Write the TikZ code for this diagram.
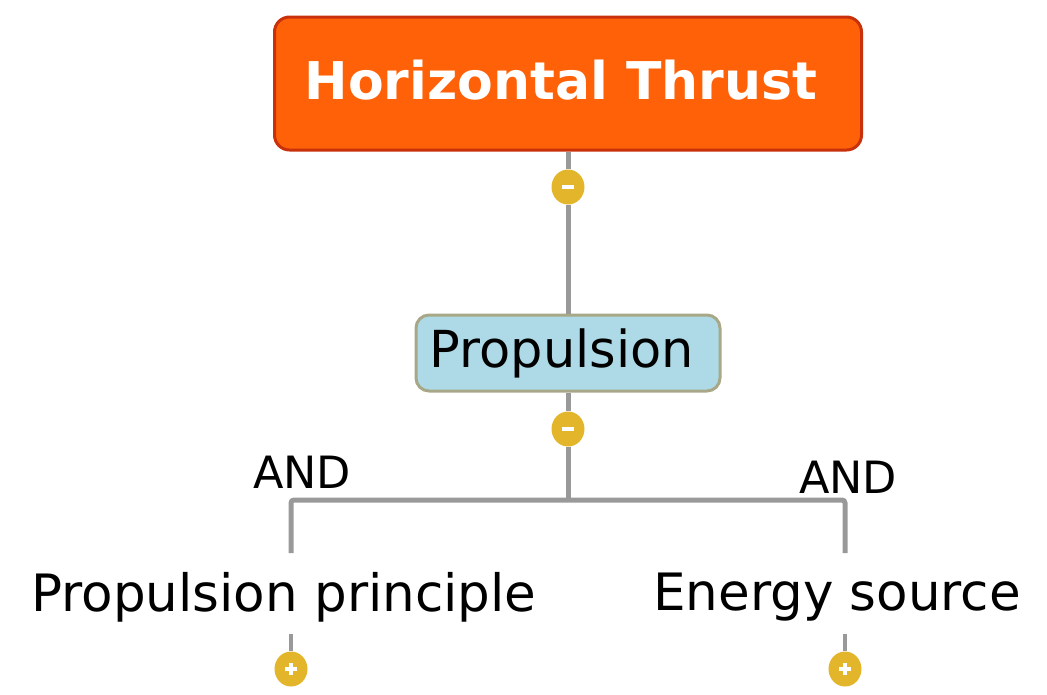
\documentclass[tikz,border=0pt]{standalone}
\usepackage{fontspec}
\setmainfont{DejaVu Sans}
\usepackage{xcolor}
\usetikzlibrary{positioning,calc,shapes.geometric}

\definecolor{titlefill}{RGB}{255,97,8}
\definecolor{titleedge}{RGB}{200,49,11}
\definecolor{subfill}{RGB}{173,218,230}
\definecolor{subedge}{RGB}{168,168,136}
\definecolor{btngold}{RGB}{227,181,43}
\definecolor{linkgray}{RGB}{153,153,153}

\tikzset{
  titlebox/.style={draw=titleedge, fill=titlefill, line width=3, rounded corners=15,
    minimum width=587, minimum height=133, text=white,
    font=\fontsize{52}{60}\selectfont\bfseries},
  subbox/.style={draw=subedge, fill=subfill, line width=3, rounded corners=13,
    minimum width=304, minimum height=76, font=\fontsize{50}{58}\selectfont},
  leaf/.style={inner sep=0, font=\fontsize{51.5}{58}\selectfont},
  andlbl/.style={inner sep=0, font=\fontsize{44.5}{50}\selectfont},
  btn/.style={ellipse, fill=btngold, minimum width=33, minimum height=35, inner sep=0},
  link/.style={draw=linkgray, line width=5},
  stub/.style={draw=linkgray, line width=3.5},
  sign/.style={draw=white, line width=3.5}
}

\begin{document}
\begin{tikzpicture}[x=1pt,y=-1pt]
\useasboundingbox (0,0) rectangle (1047,694);

% Root
\node[titlebox] (thrust) at (568,83.5) {};
\node[text=white, font=\fontsize{52}{60}\selectfont\bfseries] (thrusttxt) at (561,80) {Horizontal Thrust};
\node[btn] (fold1) at (568,187) {};

% Propulsion
\node[subbox] (prop) at (568,353) {};
\node[font=\fontsize{51}{58}\selectfont, inner sep=0] (proptxt) at (562,353) {Propulsion};
\node[btn] (fold2) at (568,429) {};

% Leaves
\coordinate (split) at (568,500);
\coordinate (ltop) at (291,553);
\coordinate (rtop) at (845,553);
\node[andlbl] (andl) at (302,472) {AND};
\node[andlbl] (andr) at (848,477) {AND};
\node[leaf] (principle) at (284,597) {Propulsion principle};
\node[leaf] (energy) at (837,597) {Energy source};
\coordinate (lbot) at (291,634);
\coordinate (rbot) at (845,634);
\node[btn] (open1) at (291,669) {};
\node[btn] (open2) at (845,669) {};

% Links
\path[link] (thrust.south) -- (fold1.north);
\path[link] (fold1.south) -- (prop.north);
\path[link] (prop.south) -- (fold2.north);
\path[link] (fold2.south) -- (split);
\path[link, rounded corners=3] (ltop) |- (split) -| (rtop);
\path[stub] (lbot) -- (open1.north);
\path[stub] (rbot) -- (open2.north);

% Signs
\foreach \b in {fold1,fold2,open1,open2}
  \path[sign] ([xshift=-6]\b.center) -- ([xshift=6]\b.center);
\foreach \b in {open1,open2}
  \path[sign] ([yshift=-6]\b.center) -- ([yshift=6]\b.center);
\end{tikzpicture}
\end{document}
